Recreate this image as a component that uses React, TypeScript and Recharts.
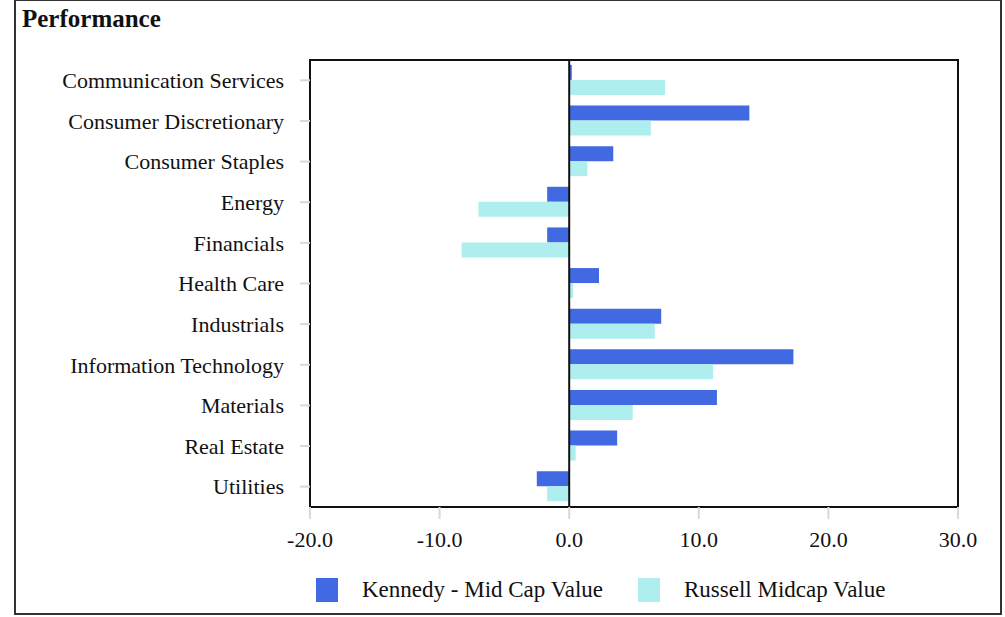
import {
  BarChart,
  Bar,
  XAxis,
  YAxis,
  Legend,
  ReferenceLine,
  ReferenceArea,
} from 'recharts'

const sectors = [
  'Communication Services',
  'Consumer Discretionary',
  'Consumer Staples',
  'Energy',
  'Financials',
  'Health Care',
  'Industrials',
  'Information Technology',
  'Materials',
  'Real Estate',
  'Utilities',
]

const kennedy = [0.2, 13.9, 3.4, -1.7, -1.7, 2.3, 7.1, 17.3, 11.4, 3.7, -2.5]
const russell = [7.4, 6.3, 1.4, -7.0, -8.3, 0.3, 6.6, 11.1, 4.9, 0.5, -1.7]

const xTicks = [-20, -10, 0, 10, 20, 30]

const seriesNames = ['Kennedy - Mid Cap Value', 'Russell Midcap Value']
const BLUE = '#4169E1'
const CYAN = '#AFEEEE'
const FONT = '"Liberation Serif", "Times New Roman", serif'

const data = sectors.map((name, i) => ({
  name,
  kennedy: kennedy[i],
  russell: russell[i],
}))

function LegendBox() {
  const items = [
    { label: seriesNames[0], color: BLUE },
    { label: seriesNames[1], color: CYAN },
  ]
  return (
    <div style={{ display: 'flex', height: 30, alignItems: 'center', fontFamily: FONT, fontSize: 23, color: '#111' }}>
      {items.map((it) => (
        <div key={it.label} style={{ display: 'flex', alignItems: 'center', marginRight: 35 }}>
          <span style={{ width: 22, height: 24, background: it.color, display: 'inline-block', marginRight: 24 }} />
          <span>{it.label}</span>
        </div>
      ))}
    </div>
  )
}

export default function App() {
  return (
    <div style={{ position: 'absolute', left: 0, top: 0, width: 1005, height: 617, background: '#fff', overflow: 'hidden' }}>
      <div
        style={{
          position: 'absolute',
          left: 14,
          top: -1,
          width: 988,
          height: 616,
          border: '2px solid #333',
          boxSizing: 'border-box',
        }}
      />
      <div
        style={{
          position: 'absolute',
          left: 22,
          top: 5,
          fontFamily: FONT,
          fontWeight: 'bold',
          fontSize: 25,
          color: '#111',
        }}
      >
        Performance
      </div>
      <div style={{ position: 'absolute', left: 0, top: 0 }}>
        <BarChart
          width={1005}
          height={617}
          data={data}
          layout="vertical"
          margin={{ top: 60, right: 47, bottom: 40, left: 0 }}
          barCategoryGap="12%"
          barGap={0}
        >
          <XAxis
            type="number"
            domain={[-20, 30]}
            ticks={xTicks}
            tickFormatter={(v: number) => v.toFixed(1)}
            axisLine={false}
            tickLine={{ stroke: '#d9d9d9', strokeWidth: 2 }}
            tickSize={12}
            tickMargin={12}
            height={40}
            tick={{ fill: '#111', fontSize: 22, fontFamily: FONT }}
          />
          <YAxis
            type="category"
            dataKey="name"
            width={310}
            axisLine={false}
            tickLine={{ stroke: '#d9d9d9', strokeWidth: 2 }}
            tickSize={10}
            tickMargin={16}
            interval={0}
            tick={{ fill: '#111', fontSize: 22, fontFamily: FONT }}
          />
          <ReferenceArea x1={-20} x2={30} fill="none" stroke="#111" strokeWidth={2} ifOverflow="visible" />
          <Bar dataKey="kennedy" name={seriesNames[0]} fill={BLUE} isAnimationActive={false} />
          <Bar dataKey="russell" name={seriesNames[1]} fill={CYAN} isAnimationActive={false} />
          <ReferenceLine x={0} stroke="#111" strokeWidth={2} />
          <Legend
            verticalAlign="bottom"
            content={() => <LegendBox />}
            wrapperStyle={{ left: 316, width: 'auto', bottom: 12 }}
          />
        </BarChart>
      </div>
    </div>
  )
}
